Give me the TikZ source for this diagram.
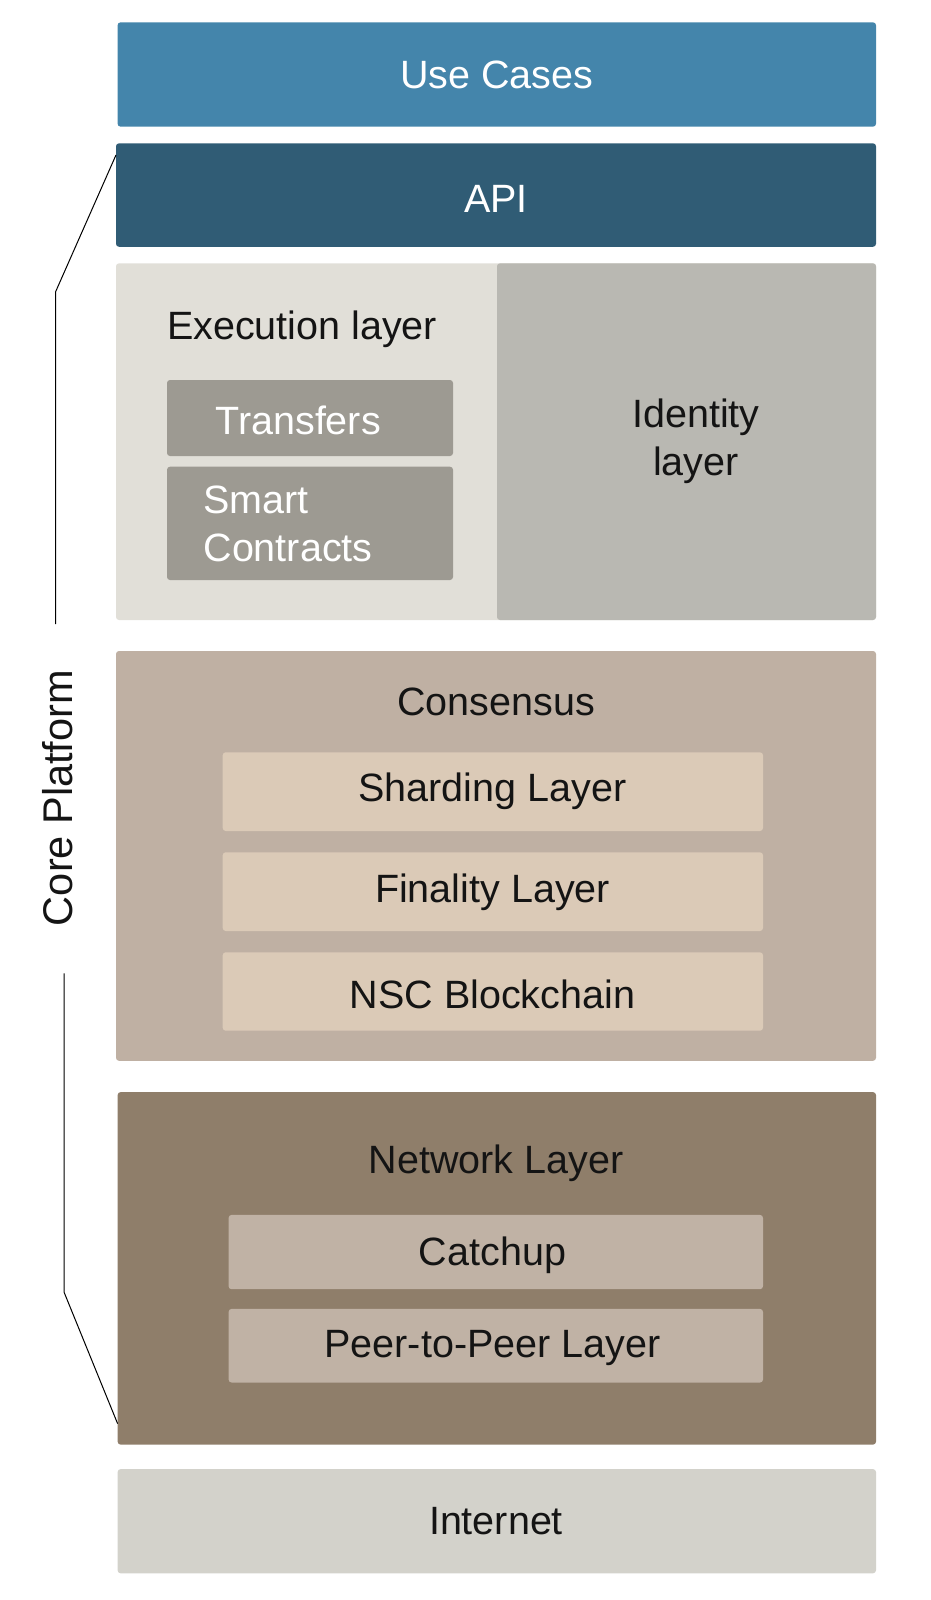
\documentclass[tikz,border=0pt]{standalone}
\usepackage{fontspec}
\setmainfont{Liberation Sans}
\definecolor{ucblue}{HTML}{4485AB}
\definecolor{apiblue}{HTML}{305C75}
\definecolor{execbg}{HTML}{E1DFD8}
\definecolor{identbg}{HTML}{B9B8B2}
\definecolor{execsub}{HTML}{9D9A92}
\definecolor{consbg}{HTML}{BFB0A3}
\definecolor{conssub}{HTML}{DBCAB7}
\definecolor{netbg}{HTML}{8F7E6A}
\definecolor{netsub}{HTML}{C0B2A5}
\definecolor{inetbg}{HTML}{D3D2CB}
\definecolor{txt}{HTML}{141414}
\begin{document}
\begin{tikzpicture}[x=1pt,y=-1pt,
  box/.style={rectangle, rounded corners=3pt, inner sep=0pt, outer sep=0pt, draw=none, anchor=north west},
  lbl/.style={inner sep=0pt, outer sep=0pt, font=\fontsize{39.5}{48.5}\selectfont, text=txt},
  wlbl/.style={lbl, text=white},
  link/.style={draw=black, line width=1pt, line join=round}]
\useasboundingbox (0,0) rectangle (931,1600);
% boxes
\node[box, fill=ucblue, minimum width=758.4pt, minimum height=104.4pt] (uc) at (117.6,22.3) {};
\node[box, fill=apiblue, minimum width=760pt, minimum height=103.5pt] (api) at (116,143.3) {};
\node[box, fill=execbg, minimum width=760pt, minimum height=356.7pt] (exec) at (116,263.3) {};
\node[box, fill=identbg, minimum width=379pt, minimum height=356.7pt] (ident) at (497,263.3) {};
\node[box, fill=execsub, minimum width=286pt, minimum height=76pt] (trans) at (167,380) {};
\node[box, fill=execsub, minimum width=286pt, minimum height=113.3pt] (smart) at (167,466.7) {};
\node[box, fill=consbg, minimum width=760pt, minimum height=409.8pt] (cons) at (116,651) {};
\node[box, fill=conssub, minimum width=540.3pt, minimum height=78.7pt] (shard) at (222.7,752.3) {};
\node[box, fill=conssub, minimum width=540.3pt, minimum height=78.7pt] (final) at (222.7,852.3) {};
\node[box, fill=conssub, minimum width=540.3pt, minimum height=78.4pt] (nsc) at (222.7,952.3) {};
\node[box, fill=netbg, minimum width=758.4pt, minimum height=352.5pt] (net) at (117.6,1092.1) {};
\node[box, fill=netsub, minimum width=534.4pt, minimum height=74.3pt] (catch) at (228.6,1214.9) {};
\node[box, fill=netsub, minimum width=534.4pt, minimum height=73.6pt] (peer) at (228.6,1308.9) {};
\node[box, fill=inetbg, minimum width=758.4pt, minimum height=104.2pt] (inet) at (117.6,1469.1) {};
% labels
\node[wlbl, anchor=base] (tuc) at (496.6,88.3) {Use Cases};
\node[wlbl, anchor=base] (tapi) at (496,212.7) {API};
\node[lbl, anchor=base west] (texec) at (167,339.3) {Execution layer};
\node[wlbl, anchor=base west] (ttrans) at (215.5,434) {Transfers};
\node[wlbl, anchor=base west, align=left] (tsmart) at (203.5,561.7) {Smart\\Contracts};
\node[lbl, anchor=base, align=center] (tident) at (696,475.8) {Identity\\layer};
\node[lbl, anchor=base] (tcons) at (496,715) {Consensus};
\node[lbl, anchor=base] (tshard) at (492.5,801) {Sharding Layer};
\node[lbl, anchor=base] (tfinal) at (492.5,902.7) {Finality Layer};
\node[lbl, anchor=base] (tnsc) at (492.5,1008.3) {NSC Blockchain};
\node[lbl, anchor=base] (tnet) at (496,1173.5) {Network Layer};
\node[lbl, anchor=base] (tcatch) at (492.5,1265.7) {Catchup};
\node[lbl, anchor=base] (tpeer) at (492.5,1357.6) {Peer-to-Peer Layer};
\node[lbl, anchor=base] (tinet) at (496,1534) {Internet};
\node[lbl, anchor=base west, rotate=90, font=\fontsize{41.5}{48}\selectfont] (tcore) at (72.4,926) {Core Platform};
% bracket lines
\coordinate (a1) at (55.5,292);
\coordinate (a2) at (55.5,624);
\coordinate (b1) at (64,973.3);
\coordinate (b2) at (64,1292);
\draw[link] (api.north west |- 0,155) -- (a1) -- (a2);
\draw[link] (b1) -- (b2) -- (net.north west |- 0,1423.6);
\end{tikzpicture}
\end{document}
